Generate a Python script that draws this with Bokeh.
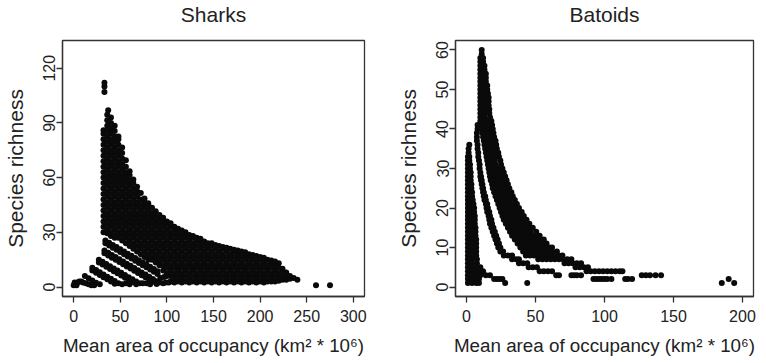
from bokeh.plotting import figure
from bokeh.layouts import row
from bokeh.models import FixedTicker, ColumnDataSource, Title
from bokeh.embed import file_html
from bokeh.resources import INLINE

# ---------------- Sharks ----------------
# dense cloud, listed column by column: mean area -> species richness values
sharks_col_area = [32, 36, 40, 44, 48, 52, 56, 60, 64, 68, 72, 76, 80, 84, 88, 92, 96, 100,
                   104, 108, 112, 116, 120, 124, 128, 132, 136, 140, 144, 148, 152, 156, 160,
                   164, 168, 172, 176, 180, 184, 188, 192, 196, 200, 204, 208, 212, 216, 220,
                   224, 228, 232, 236, 240]
sharks_col_richness = [
    [30, 33, 36, 39, 42, 45, 48, 51, 54, 57, 60, 63, 66, 69, 72, 75, 78, 81, 84, 86],
    [29.5, 31.5, 34.5, 37.5, 40.5, 43.5, 46.5, 49.5, 52.5, 55.5, 58.5, 61.5, 64.5, 67.5, 70.5, 73.5, 76.5, 79.5, 82.5, 85.5, 88.5, 91.5, 94.5],
    [28, 30, 33, 36, 39, 42, 45, 48, 51, 54, 57, 60, 63, 66, 69, 72, 75, 78, 81, 84, 87, 90, 93],
    [27, 28.5, 31.5, 34.5, 37.5, 40.5, 43.5, 46.5, 49.5, 52.5, 55.5, 58.5, 61.5, 64.5, 67.5, 70.5, 73.5, 76.5, 79.5, 82.5, 85.5, 88.5],
    [27, 30, 33, 36, 39, 42, 45, 48, 51, 54, 57, 60, 63, 66, 69, 72, 75, 78, 81, 82.5],
    [25.5, 28.5, 31.5, 34.5, 37.5, 40.5, 43.5, 46.5, 49.5, 52.5, 55.5, 58.5, 61.5, 64.5, 67.5, 70.5, 73.5, 76.5],
    [24, 27, 30, 33, 36, 39, 42, 45, 48, 51, 54, 57, 60, 63, 66, 69.5],
    [22.5, 25.5, 28.5, 31.5, 34.5, 37.5, 40.5, 43.5, 46.5, 49.5, 52.5, 55.5, 58.5, 61.5, 63.5],
    [21, 24, 27, 30, 33, 36, 39, 42, 45, 48, 51, 54, 57, 59],
    [19.5, 22.5, 25.5, 28.5, 31.5, 34.5, 37.5, 40.5, 43.5, 46.5, 49.5, 52.5, 55],
    [18, 21, 24, 27, 30, 33, 36, 39, 42, 45, 48, 51.5],
    [16.5, 19.5, 22.5, 25.5, 28.5, 31.5, 34.5, 37.5, 40.5, 43.5, 46.5, 48.5],
    [15, 18, 21, 24, 27, 30, 33, 36, 39, 42, 45, 46],
    [15, 16.5, 19.5, 22.5, 25.5, 28.5, 31.5, 34.5, 37.5, 40.5, 43.5],
    [13.5, 15, 18, 21, 24, 27, 30, 33, 36, 39, 41.5],
    [12, 13.5, 16.5, 19.5, 22.5, 25.5, 28.5, 31.5, 34.5, 37.5, 39.5],
    [9, 12, 15, 18, 21, 24, 27, 30, 33, 36, 38],
    [6, 7.5, 10.5, 13.5, 16.5, 19.5, 22.5, 25.5, 28.5, 31.5, 34.5, 36],
    [3, 6, 9, 12, 15, 18, 21, 24, 27, 30, 33, 35],
    [2.5, 4.5, 7.5, 10.5, 13.5, 16.5, 19.5, 22.5, 25.5, 28.5, 31.5, 33],
    [3, 6, 9, 12, 15, 18, 21, 24, 27, 30, 32],
    [2.5, 4.5, 7.5, 10.5, 13.5, 16.5, 19.5, 22.5, 25.5, 28.5, 31],
    [3, 6, 9, 12, 15, 18, 21, 24, 27, 30],
    [2.5, 4.5, 7.5, 10.5, 13.5, 16.5, 19.5, 22.5, 25.5, 28.5],
    [3, 6, 9, 12, 15, 18, 21, 24, 27, 28],
    [2.5, 4.5, 7.5, 10.5, 13.5, 16.5, 19.5, 22.5, 25.5, 27],
    [3, 6, 9, 12, 15, 18, 21, 24, 26.5],
    [2.5, 4.5, 7.5, 10.5, 13.5, 16.5, 19.5, 22.5, 25],
    [3, 6, 9, 12, 15, 18, 21, 24],
    [2.5, 4.5, 7.5, 10.5, 13.5, 16.5, 19.5, 22.5, 24],
    [3, 6, 9, 12, 15, 18, 21, 23],
    [2.5, 4.5, 7.5, 10.5, 13.5, 16.5, 19.5, 22.5],
    [3, 6, 9, 12, 15, 18, 21, 22],
    [2.5, 4.5, 7.5, 10.5, 13.5, 16.5, 19.5, 21.5],
    [3, 6, 9, 12, 15, 18, 21],
    [2.5, 4.5, 7.5, 10.5, 13.5, 16.5, 19.5, 20.5],
    [3, 6, 9, 12, 15, 18, 20],
    [2.5, 4.5, 7.5, 10.5, 13.5, 16.5, 19.5],
    [3, 6, 9, 12, 15, 18, 19],
    [2.5, 4.5, 7.5, 10.5, 13.5, 16.5, 18],
    [3, 6, 9, 12, 15, 17.5],
    [2.5, 4.5, 7.5, 10.5, 13.5, 16.5, 17],
    [3, 6, 9, 12, 15, 16.5],
    [2.5, 4.5, 7.5, 10.5, 13.5, 16],
    [3, 6, 9, 12, 15],
    [3, 4.5, 7.5, 10.5, 13.5, 14.5],
    [3, 6, 9, 12, 14],
    [3.5, 4.5, 7.5, 10.5, 13],
    [4, 6, 9, 10],
    [4, 5.5, 8],
    [4.5, 6],
    [5],
    [4],
]
# diagonal streaks in the lower left (two dots thick)
sharks_streak_area = [34, 38, 42, 46, 50, 54, 58, 62, 66, 70, 74, 78, 82, 86, 90,
                      34, 38, 42, 46, 50, 54, 58, 62, 66, 70, 74, 78, 82, 86, 90,
                      33, 37, 41, 45, 49, 53, 57, 61, 65, 69, 73, 77, 81, 85, 89,
                      33, 37, 41, 45, 49, 53, 57, 61, 65, 69, 73, 77, 81, 85, 89,
                      27, 31, 35, 39, 43, 47, 51, 55, 59, 63, 67, 71,
                      27, 31, 35, 39, 43, 47, 51, 55, 59, 63, 67,
                      20, 24, 28, 32, 36, 40, 44, 48,
                      20, 24, 28, 32, 36, 40, 44,
                      12, 16, 20, 24, 28]
sharks_streak_richness = [25.5, 24.3, 23.1, 21.9, 20.7, 19.5, 18.3, 17.1, 15.9, 14.7, 13.5, 12.3, 11.1, 9.9, 8.7,
                          24, 22.8, 21.6, 20.4, 19.2, 18, 16.8, 15.6, 14.4, 13.2, 12, 10.8, 9.6, 8.4, 7.2,
                          20, 18.8, 17.6, 16.4, 15.2, 14, 12.8, 11.6, 10.4, 9.2, 8, 6.8, 5.6, 4.4, 3.2,
                          18.5, 17.3, 16.1, 14.9, 13.7, 12.5, 11.3, 10.1, 8.9, 7.7, 6.5, 5.3, 4.1, 2.9, 1.7,
                          15, 13.8, 12.6, 11.4, 10.2, 9, 7.8, 6.6, 5.4, 4.2, 3, 2,
                          13.5, 12.3, 11.1, 9.9, 8.7, 7.5, 6.3, 5.1, 3.9, 2.7, 1.5,
                          10.5, 9.3, 8.1, 6.9, 5.7, 4.5, 3.3, 2.1,
                          9, 7.8, 6.6, 5.4, 4.2, 3, 1.8,
                          6, 4.8, 3.6, 2.4, 1.5]
# low-richness cluster near zero and isolated points
sharks_area = [0, 1, 3, 4, 6, 8, 10, 13, 16, 19, 22,
               52, 56, 60, 74, 78, 82, 92, 93, 96, 97, 99, 102,
               33, 33, 33, 37, 260, 275]
sharks_richness = [1, 2.5, 1, 2.5, 3, 3, 2.5, 2, 1.5, 1, 1,
                   1.5, 2, 1.5, 2, 2, 1.5, 2.5, 5, 2, 5.5, 2.5, 2.5,
                   112, 110, 107, 97, 1, 1]

# ---------------- Batoids ----------------
# listed row by row: species richness -> mean area values
batoids_row_richness = [60, 59, 58, 57, 56, 55, 54, 53, 52, 51, 50, 49, 48, 47, 46, 45, 44, 43,
                        42, 41, 40, 39, 38, 37, 36, 35, 34, 33, 32, 31, 30, 29, 28, 27, 26, 25,
                        24, 23, 22, 21, 20, 19, 18, 17, 16, 15, 14, 13, 12, 11, 10, 9, 8, 7, 6,
                        5, 4, 3, 2, 1]
batoids_row_area = [
    [11], [11], [10, 12], [10, 12], [10, 13], [10, 13],
    [10, 12, 14], [10, 12, 14], [10, 12, 14], [10, 13, 15], [10, 13, 15], [10, 13, 15.5],
    [10, 13, 16], [10, 13, 16], [10, 13, 16], [10, 13, 16.5], [10, 13, 16.5], [10, 13, 17],
    [10, 13, 16, 18],
    [8, 11, 14, 17, 18.5],
    [8, 11, 14, 17, 19],
    [7.5, 11.5, 14.5, 17.5, 19.5],
    [7.5, 12, 15, 18, 20],
    [7.5, 12.5, 15, 18, 21],
    [2, 8, 13, 15.5, 18.5, 21.5],
    [1.5, 8, 13.5, 16, 19, 22],
    [1.5, 8.5, 14, 16.5, 19.5, 23],
    [1, 2, 8.5, 14.5, 17, 20, 23.5],
    [1, 2, 9, 15, 17.5, 20.5, 24.5],
    [1, 2.5, 9.5, 15.5, 18, 21, 25],
    [1, 2.5, 9.5, 16, 18.5, 21.5, 24, 26],
    [1, 3, 10, 16.5, 19, 22, 25, 27],
    [1, 3, 10, 10.5, 17, 20, 23, 26, 28],
    [1, 3, 10.5, 11, 17.5, 20.5, 23.5, 26.5, 29],
    [1, 3.5, 11, 11.5, 18.5, 21.5, 24.5, 27.5, 30],
    [1, 3.5, 11.5, 12, 19, 22, 25, 28, 31],
    [1, 4, 12, 12.5, 20, 23, 26, 29, 32.5],
    [1, 4, 12.5, 13.5, 21, 24, 27, 30, 33.5],
    [1, 3, 4.5, 13, 14, 22, 25, 28, 31, 35],
    [1, 3, 5, 14, 15, 23, 26, 29, 32, 35, 36.5],
    [1, 3, 5.5, 14.5, 15.5, 24, 27, 30, 33, 36, 38],
    [1, 3, 5.5, 15, 16.5, 25, 28, 31, 34, 37, 40],
    [1, 3.5, 6, 16, 17, 26, 29, 32, 35, 38, 41.5],
    [1, 3.5, 6, 16.5, 18, 27, 30, 33, 36, 39, 41, 43.5],
    [1, 3.5, 6, 17, 18.5, 28.5, 31.5, 34.5, 37.5, 40.5, 43, 45.5],
    [1, 3.5, 6.5, 18, 19.5, 30, 33, 36, 39, 42, 45, 48],
    [1, 3.5, 6.5, 19, 20.5, 31.5, 34.5, 37.5, 40.5, 43.5, 46.5, 50.5],
    [1, 3.5, 6.5, 20, 21.5, 33, 36, 39, 42, 45, 48, 51, 53],
    [1, 4, 7, 21, 22.5, 35, 38, 41, 44, 47, 50, 53, 56],
    [1, 4, 7, 22, 23.5, 37, 40, 43, 46, 49, 52, 55, 58],
    [1, 4, 7, 23, 24.5, 39, 42, 45, 48, 51, 54, 57, 60, 62],
    [1, 4, 7, 24.5, 26.5, 41, 44, 47, 50, 53, 56, 59, 62, 65.5],
    [1, 4, 7, 27, 30, 33, 43, 46, 49, 52, 55, 58, 61, 64, 67, 69.5],
    [1, 4, 7.5, 33, 36, 38, 52, 55, 58, 61, 64, 67, 70, 73, 76],
    [1, 4, 7.5, 38, 41, 44, 71, 74, 77, 80, 83],
    [1, 4, 7.5, 10, 45, 48, 51, 79, 82, 85, 88],
    [1, 4, 7, 10, 12, 53, 56, 59, 62, 87, 90, 93, 96, 99, 102, 105, 108, 111, 113],
    [1, 4, 7, 10, 14, 17, 65, 67, 76, 78, 80, 83, 127, 130, 133, 137, 141],
    [1, 4, 7, 9, 20, 22, 24, 26, 92, 94, 96, 98, 100, 102, 105, 115, 117, 120, 190],
    [1, 4, 7, 9, 28, 44, 185, 194],
]

# axes
sharks_x_ticks = [0, 50, 100, 150, 200, 250, 300]
sharks_y_ticks = [0, 30, 60, 90, 120]
batoids_x_ticks = [0, 50, 100, 150, 200]
batoids_y_ticks = [0, 10, 20, 30, 40, 50, 60]

X_LABEL = "Mean area of occupancy (km\u00b2 * 10\u2076)"
Y_LABEL = "Species richness"
FONT = "Liberation Sans"
INK = "#222222"


def columns_to_points(xs_cols, ys_cols):
    xs, ys = [], []
    for x, col in zip(xs_cols, ys_cols):
        for y in col:
            xs.append(x)
            ys.append(y)
    return xs, ys


def rows_to_points(ys_rows, xs_rows):
    xs, ys = [], []
    for y, r in zip(ys_rows, xs_rows):
        for x in r:
            xs.append(x)
            ys.append(y)
    return xs, ys


def panel(title, xs, ys, x_range, y_range, xt, yt, frame_w, b_left, b_right):
    p = figure(x_range=x_range, y_range=y_range,
               output_backend="svg", toolbar_location=None,
               frame_width=frame_w, frame_height=256,
               min_border_left=b_left, min_border_right=b_right,
               min_border_top=37, min_border_bottom=61)
    # a blank gap between the frame and the title, then the title itself
    p.add_layout(Title(text="\u00a0", text_font_size="1px", standoff=12), "above")
    p.add_layout(Title(text=title, align="center", standoff=0, text_font=FONT,
                       text_font_size="21px", text_font_style="normal",
                       text_color=INK), "above")
    p.background_fill_color = "white"
    p.border_fill_color = "white"
    p.outline_line_color = "#333333"
    p.outline_line_width = 1.3
    p.xgrid.visible = False
    p.ygrid.visible = False
    for ax, ticks in ((p.xaxis, xt), (p.yaxis, yt)):
        ax.ticker = FixedTicker(ticks=ticks)
        ax.minor_tick_line_color = None
        ax.major_tick_in = 0
        ax.major_tick_out = 6
        ax.major_tick_line_color = "#333333"
        ax.major_tick_line_width = 1.3
        ax.axis_line_color = "#333333"
        ax.axis_line_width = 1.3
        ax.major_label_text_font = FONT
        ax.major_label_text_font_size = "16px"
        ax.major_label_text_color = INK
        ax.axis_label_text_font = FONT
        ax.axis_label_text_font_style = "normal"
        ax.axis_label_text_color = INK
    p.xaxis.axis_label = X_LABEL
    p.yaxis.axis_label = Y_LABEL
    p.xaxis.axis_label_text_font_size = "18.8px"
    p.yaxis.axis_label_text_font_size = "21px"
    p.yaxis.major_label_orientation = "vertical"
    p.xaxis.major_label_standoff = 7
    p.yaxis.major_label_standoff = 1
    p.xaxis.axis_label_standoff = 10
    p.yaxis.axis_label_standoff = 14
    src = ColumnDataSource(data=dict(x=xs, y=ys))
    p.scatter("x", "y", source=src, marker="circle", size=6,
              fill_color="#0a0a0a", line_color=None)
    return p


sx1, sy1 = columns_to_points(sharks_col_area, sharks_col_richness)
sharks_x = sx1 + sharks_streak_area + sharks_area
sharks_y = sy1 + sharks_streak_richness + sharks_richness
bat_x, bat_y = rows_to_points(batoids_row_richness, batoids_row_area)

p1 = panel("Sharks", sharks_x, sharks_y, (-12, 312), (-5.2, 135.2),
           sharks_x_ticks, sharks_y_ticks, 302, 56, 17)
p2 = panel("Batoids", bat_x, bat_y, (-8, 208), (-2.4, 62.4),
           batoids_x_ticks, batoids_y_ticks, 298, 74, 3)

layout = row(p1, p2)
open("out.html", "w").write(file_html(layout, INLINE))
